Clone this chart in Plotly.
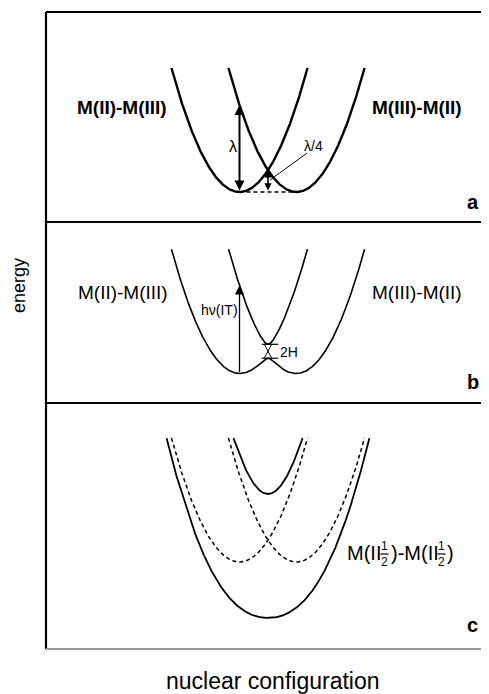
import numpy as np
import plotly.graph_objects as go

# ---------------- data (schematic parameters) ----------------
panels = ["a", "b", "c"]
well_centers = [-1.0, 1.0]      # diabatic minima, nuclear coordinate
force_const = 1.0               # curvature k of the diabatic parabolas
E_top = 5.7                     # energy where drawn curves end
coupling_b = 0.32               # H in panel b (2H gap)
coupling_c_lower = 3.575        # strong coupling, lower surface panel c
coupling_c_upper = 2.126        # strong coupling, upper surface panel c
left_label = "M(II)-M(III)"
right_label = "M(III)-M(II)"
lambda_label = "λ"
lambda4_label = "λ/4"
hv_label = "hν(IT)"
gap_label = "2H"
x_title = "nuclear configuration"
y_title = "energy"

# ---------------- geometry (window pixels; page body has an 8px margin) ----------------
OFF = 8
BOX_L, BOX_R, BOX_T, BOX_B = 46, 489, 12, 649
FIG_W, FIG_H = 489 - OFF, 694 - OFF
PW, PH = BOX_R - BOX_L, BOX_B - BOX_T
QC, QS = 268.0, 28.5      # pixel of q=0, pixels per q unit
ES = 21.75                # pixels per energy unit


def pxx(px):
    return (px - BOX_L) / PW


def pxy(py):
    return (BOX_B - py) / PH


k = force_const
cL, cR = well_centers


def EL(q):
    return k * (q - cL) ** 2


def ER(q):
    return k * (q - cR) ** 2


def adiabatic(q, Hc, sign):
    a = (EL(q) + ER(q)) / 2
    d = (EL(q) - ER(q)) / 2
    return a + sign * np.sqrt(d ** 2 + Hc ** 2)


def parabola_xy(c):
    h = np.sqrt(E_top / k)
    q = np.linspace(c - h, c + h, 400)
    return q, k * (q - c) ** 2


def clipped(q, E):
    E = np.where(E <= E_top, E, np.nan)
    return q, E


qq = np.linspace(-5, 5, 4001)
lam = ER(cL)  # reorganisation energy
cross_E = EL(0.0)

fig = go.Figure()

# ---- panel a : diabatic
for c in well_centers:
    q, E = parabola_xy(c)
    fig.add_trace(go.Scatter(x=q, y=E, mode="lines", line=dict(color="black", width=2.4),
                             xaxis="x", yaxis="y", hoverinfo="skip"))
fig.add_trace(go.Scatter(x=[cL, cR], y=[0, 0], mode="lines",
                         line=dict(color="black", width=1.5, dash="4px,3px"),
                         xaxis="x", yaxis="y", hoverinfo="skip"))

# ---- panel b : weak coupling adiabatic
for s in (-1, 1):
    q, E = clipped(qq, adiabatic(qq, coupling_b, s))
    fig.add_trace(go.Scatter(x=q, y=E, mode="lines", line=dict(color="black", width=1.6),
                             xaxis="x", yaxis="y2", hoverinfo="skip", connectgaps=False))

# ---- panel c : diabatic dashed + strong coupling solid
for c in well_centers:
    q, E = parabola_xy(c)
    fig.add_trace(go.Scatter(x=q, y=E, mode="lines",
                             line=dict(color="black", width=1.5, dash="4px,3px"),
                             xaxis="x", yaxis="y3", hoverinfo="skip"))
q, E = clipped(qq, adiabatic(qq, coupling_c_lower, -1))
fig.add_trace(go.Scatter(x=q, y=E, mode="lines", line=dict(color="black", width=1.8),
                         xaxis="x", yaxis="y3", hoverinfo="skip"))
q, E = clipped(qq, adiabatic(qq, coupling_c_upper, 1))
fig.add_trace(go.Scatter(x=q, y=E, mode="lines", line=dict(color="black", width=1.8),
                         xaxis="x", yaxis="y3", hoverinfo="skip"))

# ---------------- annotations ----------------
ann = []
FONT = "Liberation Sans, Arial, sans-serif"


def text(px, py, s, size, bold=False, xanchor="center", angle=0):
    ann.append(dict(x=pxx(px), y=pxy(py), xref="paper", yref="paper", text=("<b>%s</b>" % s) if bold else s,
                    showarrow=False, xanchor=xanchor, yanchor="middle", textangle=angle,
                    font=dict(family=FONT, size=size, color="black")))


def arrow(yref, x, y, ax, ay, width, size, both=True):
    d = dict(x=x, y=y, ax=ax, ay=ay, xref="x", yref=yref, axref="x", ayref=yref,
             text="", showarrow=True, arrowhead=2, arrowsize=size, arrowwidth=width,
             arrowcolor="black", standoff=0, startstandoff=0)
    if both:
        d.update(arrowside="end+start", startarrowhead=2, startarrowsize=size)
    ann.append(d)


# panel a
text(122, 108, left_label, 19, bold=True)
text(417, 108, right_label, 19, bold=True)
text(233, 147, lambda_label, 16)
text(313, 146, lambda4_label, 14)
arrow("y", cL, lam, cL, 0, 2, 1.0)
arrow("y", 0.0, cross_E, 0.0, 0.0, 1.6, 0.9)

# panel b
text(123, 292, left_label, 19)
text(417, 292, right_label, 19)
text(219, 310, hv_label, 14)
text(289, 352, gap_label, 14)
up_b = adiabatic(np.array([cL]), coupling_b, 1)[0]
lo_b = adiabatic(np.array([cL]), coupling_b, -1)[0]
arrow("y2", cL, up_b, cL, lo_b, 1.3, 1.4, both=False)
g_up = adiabatic(np.array([0.0]), coupling_b, 1)[0]
g_lo = adiabatic(np.array([0.0]), coupling_b, -1)[0]

# panel c : M(II 1/2)-M(II 1/2) with stacked fractions
text(345, 553, "M(II", 20, xanchor="left")
text(389, 553, ")-M(II", 20, xanchor="left")
text(445, 553, ")", 20, xanchor="left")
for fx in (384.5, 441.5):
    text(fx, 546, "1", 12)
    text(fx, 562, "2", 12)

# panel letters
text(473, 202, "a", 20, bold=True)
text(473, 382, "b", 20, bold=True)
text(472, 625, "c", 20, bold=True)

# axis titles
text(19, 286, y_title, 18, angle=-90)
text(273, 681, x_title, 23)

# ---------------- shapes ----------------
shapes = []


def pline(x0, y0, x1, y1, w=1.5, color="black"):
    shapes.append(dict(type="line", xref="paper", yref="paper", x0=pxx(x0), y0=pxy(y0),
                       x1=pxx(x1), y1=pxy(y1), line=dict(color=color, width=w)))


pline(46, 12, 489, 12, 2)
pline(46, 12, 46, 649, 2.2)
pline(46, 222, 489, 222, 1.8)
pline(46, 403, 489, 403, 1.8)
pline(46, 649, 489, 649, 2, "#9a9a9a")
# fraction bars
pline(380.5, 554, 388.5, 554, 1.2)
pline(437.5, 554, 445.5, 554, 1.2)
# 2H level ticks and the small crossed marker between them (data coords)
for e in (g_up, g_lo):
    shapes.append(dict(type="line", xref="x", yref="y2", x0=-0.22, x1=0.36, y0=e, y1=e,
                       line=dict(color="black", width=1.2)))
for sgn in (-1, 1):
    shapes.append(dict(type="line", xref="x", yref="y2", x0=-0.13 * sgn, x1=0.13 * sgn,
                       y0=g_up, y1=g_lo, line=dict(color="black", width=1)))
# lambda/4 leader line
shapes.append(dict(type="line", xref="x", yref="y", x0=1.37, y0=1.79, x1=0.07, y1=0.55,
                   line=dict(color="black", width=1)))

noax = dict(showgrid=False, zeroline=False, showticklabels=False, ticks="", showline=False, fixedrange=True)
fig.update_layout(
    width=FIG_W, height=FIG_H,
    margin=dict(l=BOX_L - OFF, r=FIG_W - (BOX_R - OFF), t=BOX_T - OFF, b=FIG_H - (BOX_B - OFF)),
    paper_bgcolor="white", plot_bgcolor="white", showlegend=False,
    xaxis=dict(domain=[0, 1], range=[(BOX_L - QC) / QS, (BOX_R - QC) / QS], anchor="y3", **noax),
    yaxis=dict(domain=[pxy(222), 1], range=[-(222 - 192) / ES, (192 - 12) / ES], anchor="x", **noax),
    yaxis2=dict(domain=[pxy(403), pxy(222)], range=[-(403 - 373) / ES, (373 - 222) / ES], anchor="x", **noax),
    yaxis3=dict(domain=[0, pxy(403)], range=[-(649 - 562) / ES, (562 - 403) / ES], anchor="x", **noax),
    annotations=ann, shapes=shapes,
)
fig.write_html("out.html")
